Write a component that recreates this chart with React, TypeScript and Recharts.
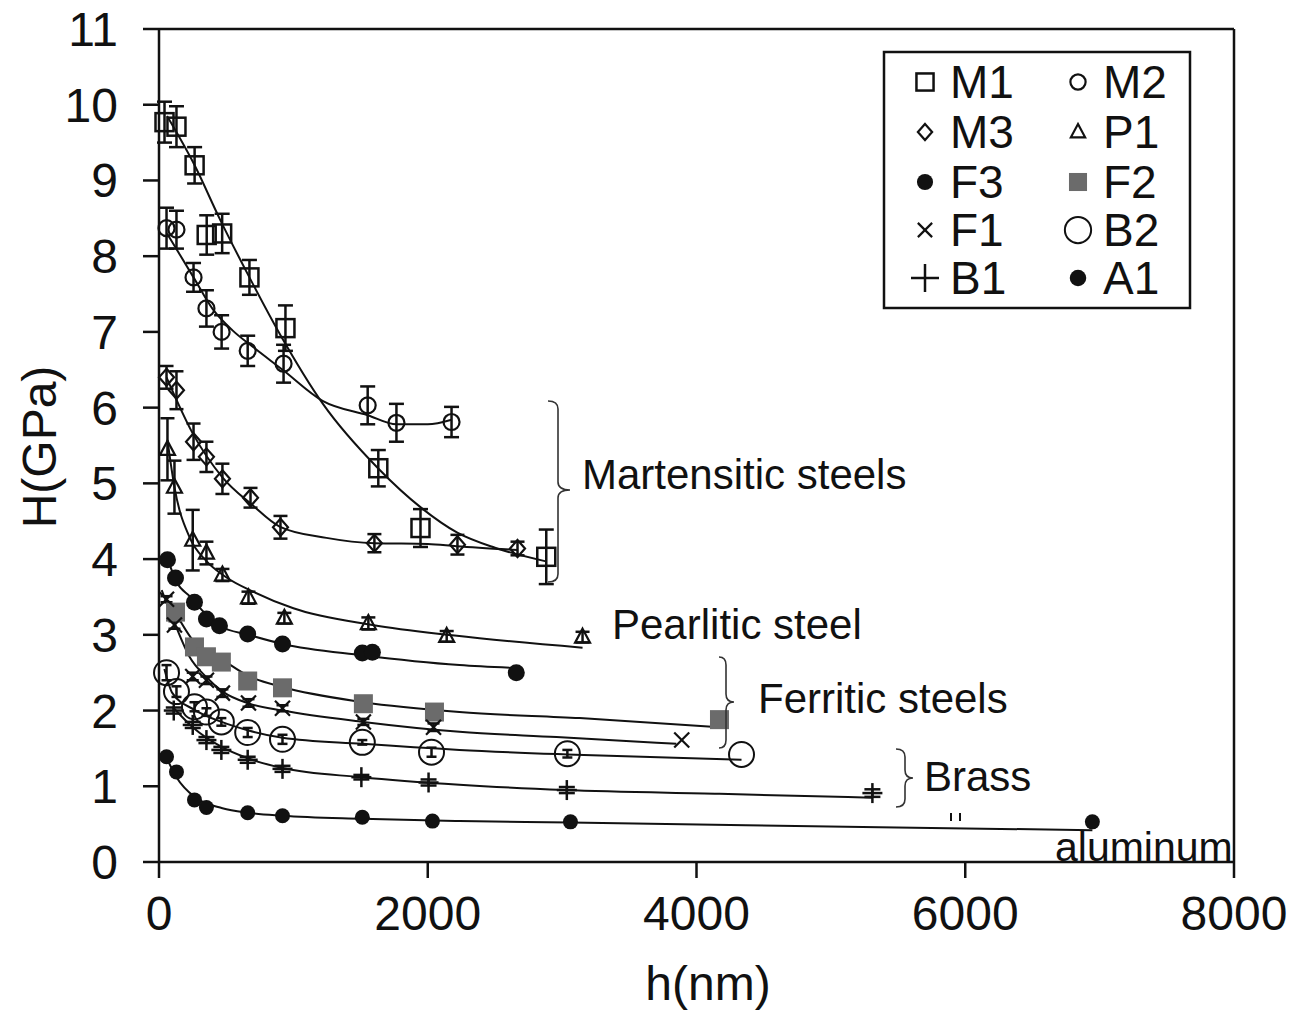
import React from 'react';
import { ComposedChart, Scatter, Line, XAxis, YAxis, ErrorBar, ReferenceLine } from 'recharts';

const W = 1295;
const H = 1014;
const PLOT = { left: 159, right: 1234, top: 29, bottom: 862 };
const FONT = '"Liberation Sans", Arial, sans-serif';
const INK = '#111';

const xTicks = [0, 2000, 4000, 6000, 8000];
const yTicks = [0, 1, 2, 3, 4, 5, 6, 7, 8, 9, 10, 11];

// measured points: [h (nm), H (GPa), error bar half-height]
const m1Points = [[41, 9.77, 0.27], [130, 9.71, 0.27], [265, 9.2, 0.24], [355, 8.28, 0.26], [470, 8.3, 0.26], [673, 7.72, 0.23], [941, 7.05, 0.3], [1632, 5.2, 0.24], [1946, 4.41, 0.25], [2882, 4.03, 0.36]];
const m2Points = [[56, 8.37, 0.27], [130, 8.35, 0.25], [257, 7.72, 0.19], [353, 7.31, 0.24], [466, 7.0, 0.22], [660, 6.75, 0.2], [927, 6.58, 0.25], [1553, 6.03, 0.25], [1767, 5.8, 0.25], [2177, 5.81, 0.2]];
const m3Points = [[56, 6.4, 0.15], [130, 6.23, 0.25], [257, 5.55, 0.24], [353, 5.35, 0.2], [472, 5.06, 0.2], [681, 4.81, 0.13], [904, 4.42, 0.15], [1603, 4.21, 0.12], [2221, 4.19, 0.13], [2668, 4.14, 0.09]];
const p1Points = [[63, 5.45, 0.41], [115, 4.95, 0.35], [251, 4.25, 0.4], [353, 4.08, 0.15], [472, 3.79, 0.08], [666, 3.49, 0.08], [933, 3.22, 0.07], [1558, 3.15, 0.08], [2141, 2.98, 0.07], [3152, 2.97, 0.07]];
const f3Points = [[63, 3.99], [123, 3.75], [264, 3.43], [353, 3.21], [450, 3.12], [660, 3.01], [919, 2.88], [1513, 2.76], [1588, 2.77], [2659, 2.5]];
const f2Points = [[123, 3.3], [264, 2.84], [353, 2.71], [464, 2.64], [660, 2.39], [919, 2.3], [1521, 2.09], [2050, 1.98], [4171, 1.88]];
const f1Points = [[56, 3.47, 0.04], [115, 3.13, 0.05], [251, 2.45, 0.05], [353, 2.4, 0.05], [472, 2.23, 0.05], [666, 2.1, 0.05], [919, 2.03, 0.04], [1521, 1.85, 0.04], [2043, 1.78, 0.05], [3890, 1.61, 0]];
const b2Points = [[56, 2.5, 0.1], [130, 2.25, 0.07], [264, 2.05, 0.06], [353, 1.98, 0.05], [464, 1.85, 0.05], [660, 1.71, 0.06], [919, 1.62, 0.06], [1513, 1.58, 0.03], [2028, 1.45, 0.06], [3039, 1.43, 0.05], [4335, 1.42, 0]];
const b1Points = [[110, 2.0, 0.04], [251, 1.81, 0.04], [353, 1.61, 0.04], [464, 1.48, 0.04], [660, 1.35, 0.04], [919, 1.23, 0.04], [1506, 1.12, 0.03], [2006, 1.05, 0.04], [3035, 0.95, 0.04], [5309, 0.91, 0.05]];
const a1Points = [[56, 1.39], [130, 1.19], [264, 0.82], [353, 0.72], [660, 0.65], [919, 0.61], [1513, 0.59], [2035, 0.54], [3062, 0.53], [6946, 0.53]];

// trend curves as drawn in the figure: [h (nm), H (GPa)]
const m1Curve = [[60, 9.85], [265, 9.2], [450, 8.5], [673, 7.72], [900, 6.97], [1220, 6.05], [1630, 5.2], [1950, 4.68], [2220, 4.35], [2500, 4.15], [2880, 3.97]];
const m2Curve = [[60, 8.3], [257, 7.72], [400, 7.3], [547, 7.02], [700, 6.8], [920, 6.5], [1217, 6.09], [1553, 5.9], [1767, 5.78], [2000, 5.78], [2177, 5.84]];
const m3Curve = [[56, 6.4], [251, 5.66], [472, 5.08], [697, 4.71], [897, 4.43], [1246, 4.28], [1603, 4.21], [2000, 4.2], [2213, 4.17], [2668, 4.12]];
const p1Curve = [[63, 5.57], [115, 4.95], [227, 4.29], [350, 3.98], [500, 3.76], [700, 3.57], [1000, 3.35], [1588, 3.13], [2200, 2.99], [3152, 2.83]];
const f3Curve = [[63, 4.01], [130, 3.7], [234, 3.5], [350, 3.27], [450, 3.12], [666, 3.0], [919, 2.88], [1513, 2.73], [2236, 2.6], [2659, 2.56]];
const f2Curve = [[93, 3.39], [251, 2.93], [474, 2.67], [674, 2.45], [919, 2.31], [1521, 2.11], [2236, 1.98], [3130, 1.9], [4171, 1.78]];
const f1Curve = [[20, 3.59], [115, 3.16], [227, 2.71], [353, 2.44], [474, 2.25], [674, 2.09], [919, 2.0], [1521, 1.85], [2236, 1.72], [2958, 1.65], [3850, 1.56]];
const b2Curve = [[40, 2.55], [100, 2.23], [264, 2.01], [466, 1.85], [660, 1.74], [919, 1.64], [1513, 1.56], [2236, 1.48], [3039, 1.42], [4335, 1.35]];
const b1Curve = [[100, 2.05], [251, 1.78], [466, 1.52], [660, 1.37], [919, 1.24], [1506, 1.12], [2236, 1.02], [3020, 0.95], [4171, 0.9], [5309, 0.85]];
const a1Curve = [[63, 1.35], [130, 1.12], [264, 0.86], [472, 0.71], [660, 0.65], [919, 0.61], [1513, 0.57], [2236, 0.54], [3062, 0.52], [5361, 0.46], [6946, 0.42]];

const series = [
  { name: 'M1', kind: 'openSquare', points: m1Points, curve: m1Curve, capW: 7.5 },
  { name: 'M2', kind: 'smallCircle', points: m2Points, curve: m2Curve, capW: 7.5 },
  { name: 'M3', kind: 'diamond', points: m3Points, curve: m3Curve, capW: 7 },
  { name: 'P1', kind: 'triangle', points: p1Points, curve: p1Curve, capW: 7 },
  { name: 'F3', kind: 'dot', points: f3Points, curve: f3Curve, capW: 0 },
  { name: 'F2', kind: 'graySquare', points: f2Points, curve: f2Curve, capW: 0 },
  { name: 'F1', kind: 'cross', points: f1Points, curve: f1Curve, capW: 6 },
  { name: 'B2', kind: 'bigCircle', points: b2Points, curve: b2Curve, capW: 5 },
  { name: 'B1', kind: 'plus', points: b1Points, curve: b1Curve, capW: 8 },
  { name: 'A1', kind: 'smallDot', points: a1Points, curve: a1Curve, capW: 0 },
];

const legendScale: Record<string, number> = { B1: 1.4, B2: 1.05, A1: 1.1 };

const toXY = (arr: number[][]) => arr.map(([x, y, err]) => ({ x, y, err: err || 0 }));

function Marker({ kind, cx, cy, s = 1 }: { kind: string; cx: number; cy: number; s?: number }) {
  switch (kind) {
    case 'openSquare': {
      const h = 9 * s;
      return <rect x={cx - h} y={cy - h} width={2 * h} height={2 * h} fill="none" stroke={INK} strokeWidth={2.5} />;
    }
    case 'smallCircle':
      return <circle cx={cx} cy={cy} r={8 * s} fill="none" stroke={INK} strokeWidth={2.2} />;
    case 'diamond': {
      const w = 7.5 * s;
      const h = 8.5 * s;
      return <path d={`M${cx},${cy - h}L${cx + w},${cy}L${cx},${cy + h}L${cx - w},${cy}Z`} fill="none" stroke={INK} strokeWidth={2.2} />;
    }
    case 'triangle': {
      const w = 7.5 * s;
      const h = 14 * s;
      return <path d={`M${cx},${cy - h * 0.6}L${cx + w},${cy + h * 0.4}L${cx - w},${cy + h * 0.4}Z`} fill="none" stroke={INK} strokeWidth={2.2} />;
    }
    case 'dot':
      return <circle cx={cx} cy={cy} r={8.5 * s} fill={INK} />;
    case 'smallDot':
      return <circle cx={cx} cy={cy} r={7.5 * s} fill={INK} />;
    case 'graySquare': {
      const h = 9.5 * s;
      return <rect x={cx - h} y={cy - h} width={2 * h} height={2 * h} fill="#6b6b6b" />;
    }
    case 'cross': {
      const d = 7.5 * s;
      return (
        <g stroke={INK} strokeWidth={2.2}>
          <line x1={cx - d} y1={cy - d} x2={cx + d} y2={cy + d} />
          <line x1={cx - d} y1={cy + d} x2={cx + d} y2={cy - d} />
        </g>
      );
    }
    case 'bigCircle':
      return <circle cx={cx} cy={cy} r={12.5 * s} fill="none" stroke={INK} strokeWidth={2} />;
    case 'plus': {
      const d = 10 * s;
      return (
        <g stroke={INK} strokeWidth={2.5}>
          <line x1={cx - d} y1={cy} x2={cx + d} y2={cy} />
          <line x1={cx} y1={cy - d} x2={cx} y2={cy + d} />
        </g>
      );
    }
    default:
      return <g />;
  }
}

const shapeFor = (kind: string) => (props: any) => {
  const { cx, cy } = props;
  if (cx == null || cy == null) return <g />;
  return <Marker kind={kind} cx={cx} cy={cy} />;
};

// curly brace "}" from (x0, yTop) to (x0, yBot), spine at xs, tip at (xt, yMid)
const bracePath = (x0: number, xs: number, xt: number, yTop: number, yMid: number, yBot: number) => {
  const r = 8;
  return `M${x0},${yTop} Q${xs},${yTop} ${xs},${yTop + r} L${xs},${yMid - r} Q${xs},${yMid} ${xt},${yMid} Q${xs},${yMid} ${xs},${yMid + r} L${xs},${yBot - r} Q${xs},${yBot} ${x0},${yBot}`;
};

const annotations = [
  { text: 'Martensitic steels', x: 582, y: 489, brace: [548, 558, 570, 401, 490, 582] },
  { text: 'Pearlitic steel', x: 612, y: 639, brace: null },
  { text: 'Ferritic steels', x: 758, y: 713, brace: [719, 726, 734, 657, 702, 748] },
  { text: 'Brass', x: 924, y: 791, brace: [896, 905, 913, 749, 778, 807] },
];

export default function App() {
  const axisStroke = { stroke: INK, strokeWidth: 2.5 };
  const legendCols = [925, 1078];
  const legendRows = [82, 132, 182, 230, 278];

  return (
    <div style={{ position: 'absolute', left: 0, top: 0, width: W, height: H, background: '#fff' }}>
      <ComposedChart
        width={W}
        height={H}
        margin={{ top: PLOT.top, right: W - PLOT.right, left: 0, bottom: 0 }}
      >
        <XAxis
          type="number"
          dataKey="x"
          domain={[0, 8000]}
          ticks={xTicks}
          interval={0}
          height={H - PLOT.bottom}
          tickSize={16}
          tickMargin={18}
          axisLine={axisStroke}
          tickLine={axisStroke}
          tick={{ fill: INK, fontSize: 48, fontFamily: FONT }}
        />
        <YAxis
          type="number"
          dataKey="y"
          domain={[0, 11]}
          ticks={yTicks}
          interval={0}
          width={PLOT.left}
          tickSize={16}
          tickMargin={25}
          axisLine={axisStroke}
          tickLine={axisStroke}
          tick={{ fill: INK, fontSize: 48, fontFamily: FONT }}
        />
        <ReferenceLine y={11} stroke={INK} strokeWidth={2.5} />
        <ReferenceLine x={8000} stroke={INK} strokeWidth={2.5} />
        {series.map((s) => (
          <Line
            key={`curve-${s.name}`}
            data={toXY(s.curve)}
            dataKey="y"
            type="monotone"
            stroke={INK}
            strokeWidth={2}
            dot={false}
            activeDot={false}
            legendType="none"
            isAnimationActive={false}
          />
        ))}
        {series.map((s) => (
          <Scatter
            key={`pts-${s.name}`}
            name={s.name}
            data={toXY(s.points)}
            dataKey="y"
            shape={shapeFor(s.kind)}
            isAnimationActive={false}
          >
            {s.capW ? (
              <ErrorBar dataKey="err" direction="y" width={s.capW} stroke={INK} strokeWidth={2.5} />
            ) : null}
          </Scatter>
        ))}
      </ComposedChart>

      <svg
        width={W}
        height={H}
        style={{ position: 'absolute', left: 0, top: 0, pointerEvents: 'none' }}
        fontFamily={FONT}
      >
        {/* axis titles */}
        <text x={708} y={1000} fontSize={48} textAnchor="middle" fill={INK}>h(nm)</text>
        <text x={56} y={447} fontSize={48} textAnchor="middle" fill={INK} transform="rotate(-90, 56, 447)">H(GPa)</text>

        {/* group annotations */}
        {annotations.map((a) => (
          <g key={a.text}>
            {a.brace ? (
              <path d={bracePath(a.brace[0], a.brace[1], a.brace[2], a.brace[3], a.brace[4], a.brace[5])} fill="none" stroke="#333" strokeWidth={1.6} />
            ) : null}
            <text x={a.x} y={a.y} fontSize={42} fill={INK}>{a.text}</text>
          </g>
        ))}
        <text x={1055} y={861} fontSize={41} fill={INK}>aluminum</text>
        <g stroke={INK} strokeWidth={2}>
          <line x1={951} y1={813} x2={951} y2={821} />
          <line x1={960} y1={813} x2={960} y2={821} />
        </g>

        {/* legend */}
        <rect x={884} y={52} width={306} height={256} fill="#fff" stroke={INK} strokeWidth={2.5} />
        {series.map((s, i) => {
          const cx = legendCols[i % 2];
          const cy = legendRows[Math.floor(i / 2)];
          return (
            <g key={`leg-${s.name}`}>
              <Marker kind={s.kind} cx={cx} cy={cy} s={legendScale[s.name] || 0.95} />
              <text x={cx + 25} y={cy + 16} fontSize={46} fill={INK}>{s.name}</text>
            </g>
          );
        })}
      </svg>
    </div>
  );
}
